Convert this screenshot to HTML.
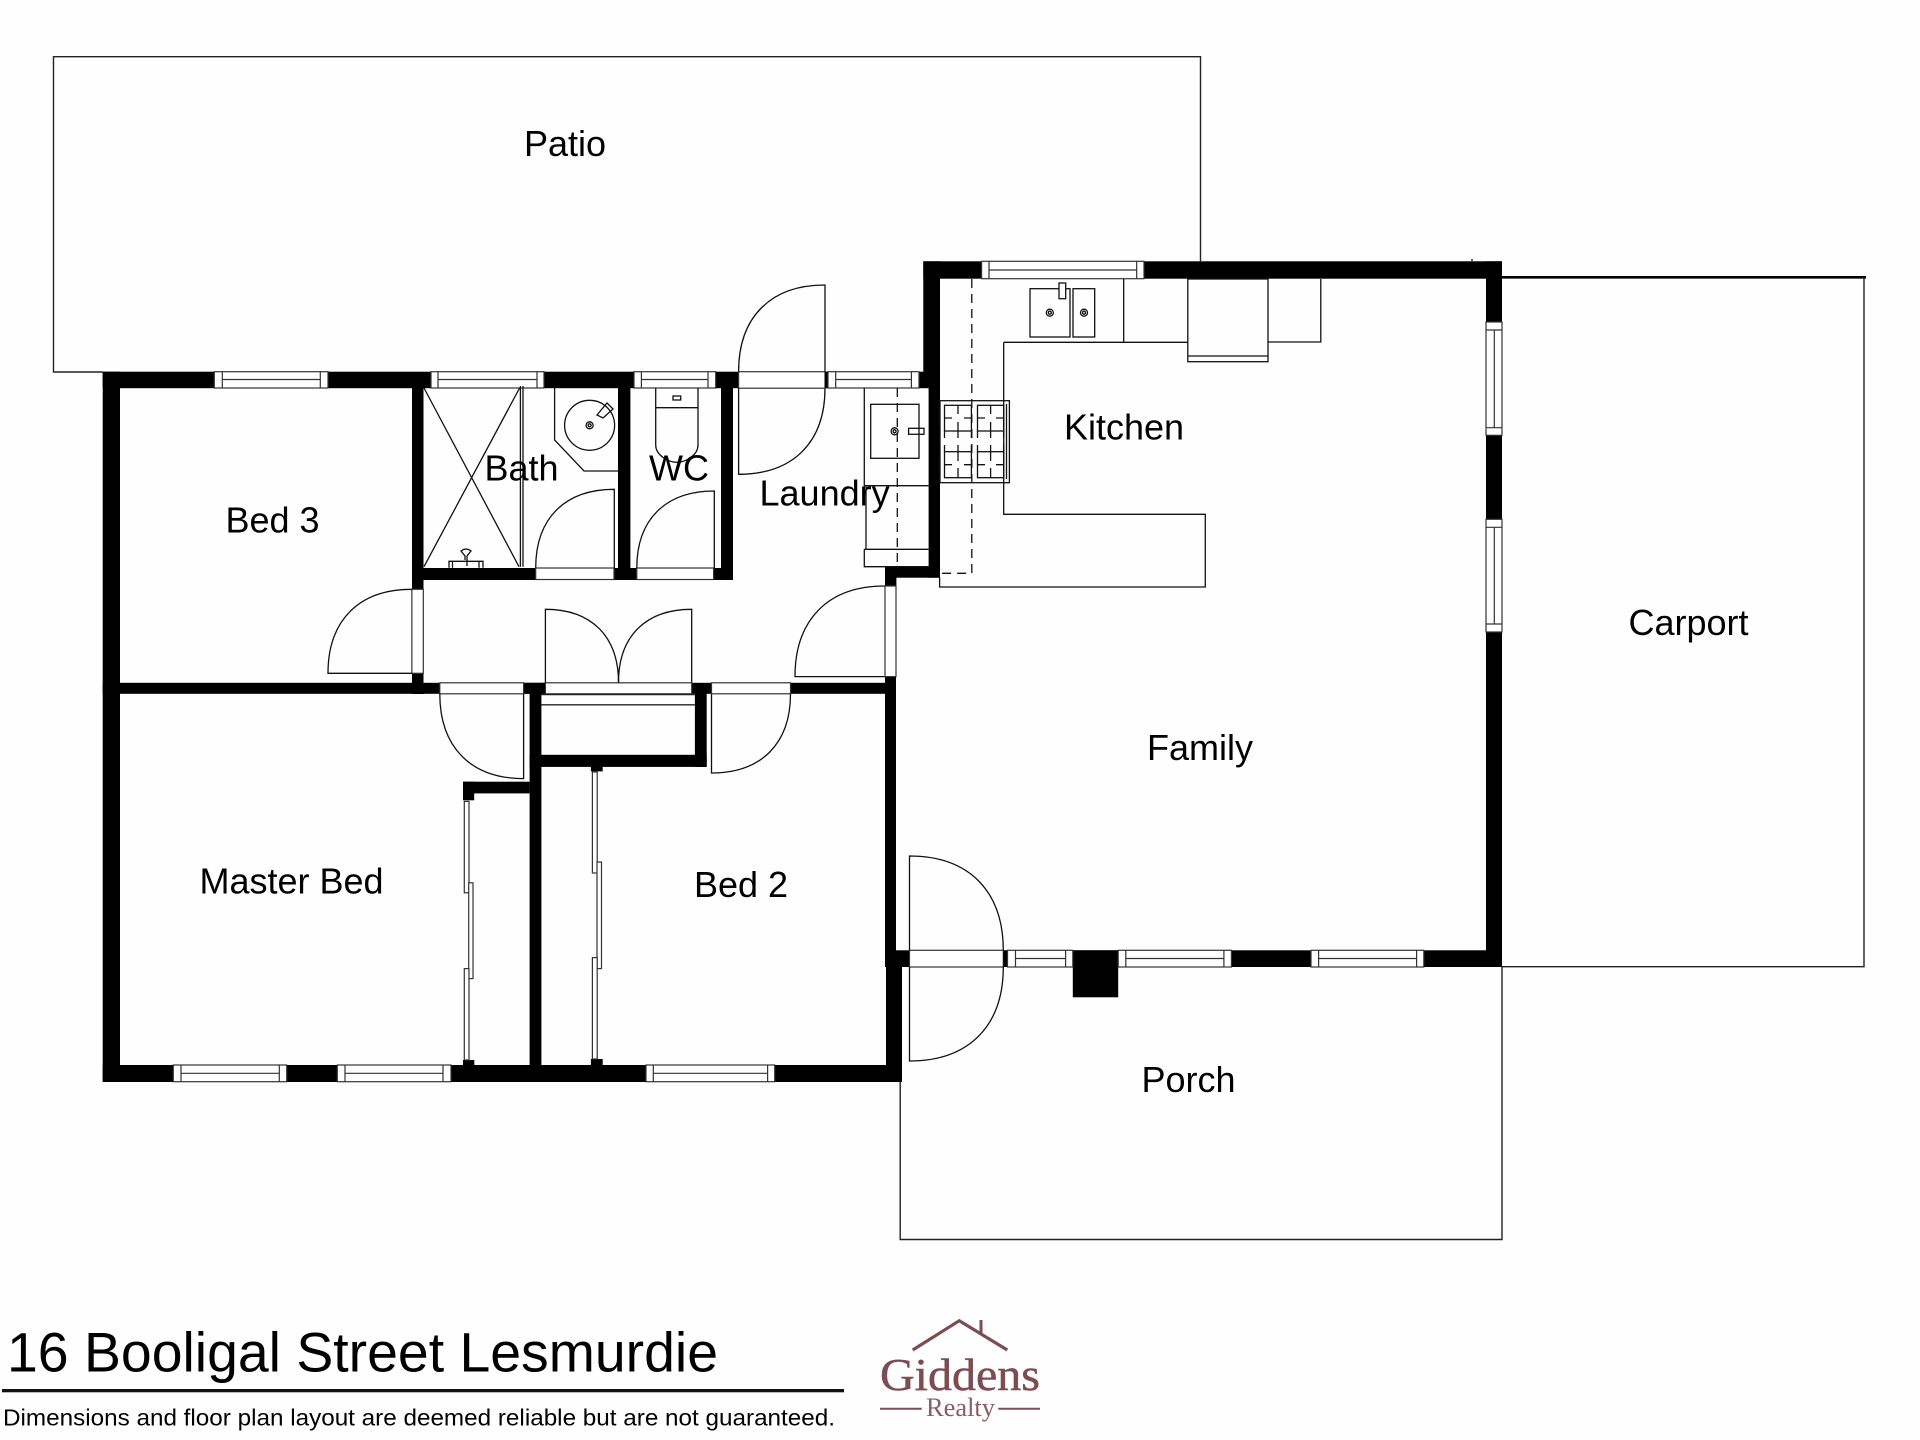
<!DOCTYPE html>
<html lang="en">
<head>
<meta charset="utf-8">
<title>16 Booligal Street Lesmurdie</title>
<style>
html,body{margin:0;padding:0;background:#fefefe}
svg{display:block}
text{font-family:"Liberation Sans",sans-serif;fill:#000}
.l{fill:none;stroke:#222;stroke-width:1.4}
.t{fill:none;stroke:#111;stroke-width:1.3}
.w{fill:#fff;stroke:#333;stroke-width:1.2}
.o{fill:#fff}
.b{fill:#000}
.r{font-size:36px}
</style>
</head>
<body>
<svg width="1920" height="1440" viewBox="0 0 1920 1440" xmlns="http://www.w3.org/2000/svg">
<rect width="1920" height="1440" fill="#fefefe"/>

<!-- outlines of patio, carport, porch -->
<path class="l" d="M102.7,372H53.5V56.7H1200.5V261.3"/>
<path d="M1502,277.3H1866" fill="none" stroke="#000" stroke-width="2.6"/>
<path class="l" d="M1864,277V966.7H1502"/>
<path class="l" d="M900.2,1082V1239.5H1502V967"/>
<path class="t" d="M1472,261V259"/>

<!-- walls -->
<g class="b">
<rect x="102.7" y="371.7" width="837.3" height="16.5"/>
<rect x="102.7" y="371.7" width="17.3" height="710.3"/>
<rect x="102.7" y="1065" width="799.3" height="17"/>
<rect x="923.3" y="261.3" width="16.7" height="120"/>
<rect x="928.6" y="380" width="11.4" height="197.7"/>
<rect x="923.3" y="261.3" width="578.7" height="17.4"/>
<rect x="1486" y="261.3" width="16" height="705.7"/>
<rect x="885" y="950.3" width="617" height="16.7"/>
<rect x="412" y="372" width="11.5" height="322"/>
<rect x="412" y="568" width="321" height="12"/>
<rect x="618" y="388" width="12.4" height="192"/>
<rect x="721" y="388" width="12" height="192"/>
<rect x="885" y="566.7" width="55" height="11"/>
<rect x="885" y="566.7" width="11.4" height="20"/>
<rect x="102.7" y="682.8" width="793.3" height="11"/>
<rect x="885" y="676.6" width="11" height="280"/>
<rect x="886" y="960" width="16" height="122"/>
<rect x="529.6" y="690" width="11.8" height="392"/>
<rect x="523.6" y="682.8" width="21.8" height="11"/>
<rect x="694.9" y="690" width="11.8" height="77"/>
<rect x="529.6" y="754.8" width="177.1" height="12.1"/>
<rect x="463" y="781.7" width="66.6" height="11.7"/>
<rect x="463" y="781.7" width="11.2" height="18.6"/>
<rect x="463" y="1060" width="11.3" height="6"/>
<rect x="590.9" y="766" width="11.8" height="5.4"/>
<rect x="590.9" y="1059" width="11.8" height="7"/>
<rect x="1072.8" y="950.3" width="45.4" height="47"/>
</g>

<!-- door openings -->
<g class="w">
<rect x="738.6" y="371.7" width="86.4" height="16.5"/>
<rect x="535.7" y="568" width="78.3" height="11.5"/>
<rect x="636.8" y="568" width="76.8" height="11.5"/>
<rect x="411.9" y="589.3" width="11.4" height="84"/>
<rect x="439.8" y="682.8" width="83.8" height="11"/>
<rect x="545.4" y="682.8" width="146.3" height="11"/>
<rect x="711.5" y="682.8" width="79" height="11"/>
<rect x="885" y="586" width="11" height="90.6"/>
<rect x="909.5" y="950.3" width="93.8" height="16.7"/>
</g>

<!-- door swings -->
<g class="t">
<path d="M411.7,589.3C359,589.3 328,620.4 328,673.3H411.7"/>
<path d="M738.6,371.7C738.6,317.1 770.6,285 825,285V372"/>
<path d="M825,388C825,442.4 793,474.3 738.6,474.3V388"/>
<path d="M535.7,568C535.7,518.4 564.8,489.3 614.3,489.3V568"/>
<path d="M636.8,568C636.8,519.5 665.5,491 714.3,491V568"/>
<path d="M545.4,682.8V609.3C591.4,609.3 618.5,636.4 618.5,682.4"/>
<path d="M691.7,682.8V609.3C645.6,609.3 618.5,636.4 618.5,682.4"/>
<path d="M439.8,693.8C439.8,747.2 470.8,778.6 523.6,778.6V694"/>
<path d="M790.5,693.8C790.5,743.7 761.3,773 711.5,773V694"/>
<path d="M884.6,586C828.2,586 795,619.6 795,676.6H884.6"/>
<path d="M909.5,950.3V856C968.6,856 1003.3,890.9 1003.3,950.3"/>
<path d="M1003.3,967C1003.3,1026.2 968.6,1061 909.5,1061V967"/>
</g>
<rect x="1003.3" y="950.3" width="4.2" height="16.7" class="b"/>
<rect x="825" y="371.7" width="3" height="16.5" class="b"/>

<!-- horizontal windows -->
<g class="w">
<rect x="214.3" y="371.7" width="113.7" height="16.3"/><path d="M222.3,371.7V388M320.3,371.7V388M222.3,379.5H320.3"/>
<rect x="431" y="371.7" width="113" height="16.3"/><path d="M438,371.7V388M537,371.7V388M438,379.5H537"/>
<rect x="634" y="371.7" width="81.7" height="16.3"/><path d="M641.4,371.7V388M708,371.7V388M641.4,379.5H708"/>
<rect x="828" y="371.7" width="91" height="16.3"/><path d="M835.7,371.7V388M911.4,371.7V388M835.7,379.5H911.4"/>
<rect x="981.6" y="261.3" width="162.4" height="17.4"/><path d="M989,261.3V278.7M1136.7,261.3V278.7M989,270H1136.7"/>
<rect x="1007.5" y="950.3" width="65.3" height="16.7"/><path d="M1015.5,950.3V967M1065.6,950.3V967M1015.5,958.5H1065.6"/>
<rect x="1118.2" y="950.3" width="113.2" height="16.7"/><path d="M1125.8,950.3V967M1223.9,950.3V967M1125.8,958.5H1223.9"/>
<rect x="1311" y="950.3" width="112.8" height="16.7"/><path d="M1318.6,950.3V967M1416.6,950.3V967M1318.6,958.5H1416.6"/>
<rect x="173.3" y="1065" width="113.4" height="16.7"/><path d="M181,1065V1081.7M279.3,1065V1081.7M181,1073.3H279.3"/>
<rect x="337.3" y="1065" width="113.7" height="16.7"/><path d="M345,1065V1081.7M443,1065V1081.7M345,1073.3H443"/>
<rect x="646" y="1065" width="128.7" height="16.7"/><path d="M653.3,1065V1081.7M767.6,1065V1081.7M653.3,1073.3H767.6"/>
<!-- vertical windows -->
<rect x="1486" y="322" width="16" height="113.3"/><path d="M1486,330H1502M1486,427.7H1502M1494.3,330V427.7"/>
<rect x="1486" y="519.3" width="16" height="112.7"/><path d="M1486,527.3H1502M1486,624H1502M1494.3,527.3V624"/>
<!-- sliding doors -->
<rect x="464.3" y="801.4" width="4.7" height="91.4"/>
<rect x="468.7" y="882.8" width="4.3" height="95.8"/>
<rect x="464.3" y="968.6" width="4.7" height="91.4"/>
<rect x="592.4" y="772" width="4.8" height="101"/>
<rect x="597" y="862" width="4.5" height="106.6"/>
<rect x="592.4" y="957.6" width="4.8" height="101.4"/>
</g>

<!-- cupboard shelf lines -->
<path class="l" d="M541.4,694.5H694.9M541.4,704.8H694.9"/>

<!-- shower -->
<g class="t">
<path d="M424,388L519,566.7M519.6,388L424,566.7"/>
<path d="M520.4,386V566.7M523,386V566.7"/>
<path d="M449,567.7V561.3H483V567.7M452.5,561.3V567.7M479,561.3V567.7"/>
<path d="M465,560V556L461,551Q466,547 471,551L467,556V566"/>
</g>

<!-- vanity -->
<g class="t">
<path d="M554.6,388V440L584,471H618"/>
<circle cx="589.6" cy="425.3" r="25"/>
<circle cx="589.6" cy="425.3" r="3.5"/>
<circle cx="589.6" cy="425.3" r="1.5"/>
<path d="M597,415L607,403L613,409L603,418Z"/>
</g>

<!-- toilet -->
<g class="t">
<path d="M655.7,388V407.7H698V388M655.7,407.7V445C655.7,455 668,462.3 677,462.3C686,462.3 698,455 698,445V407.7"/>
<rect x="673" y="396" width="7.7" height="4"/>
</g>

<!-- laundry bench -->
<g class="t">
<path d="M864.3,388V485.7H928.6"/>
<path d="M866,485.7V549.3M864.3,549.3H928.6M864.3,549.3V566.7H928.6"/>
<rect x="870.7" y="404.3" width="48.3" height="54"/>
<circle cx="894.6" cy="431.3" r="3.5"/>
<circle cx="894.6" cy="431.3" r="1.5"/>
<rect x="908.6" y="428.3" width="15.4" height="6"/>
<path d="M897.3,388V566" stroke-dasharray="9 6"/>
</g>

<!-- kitchen -->
<g class="t">
<path d="M1003.7,342.3V514.3H1205.3V587H939.6V577"/>
<path d="M1003.7,342.3H1187.8M1123.7,279V342"/>
<path d="M1268,342H1320.8V279"/>
<rect x="1187.8" y="279" width="80.2" height="82.7"/>
<path d="M1187.8,356H1268"/>
<rect x="1030" y="288.7" width="40" height="48.3"/>
<rect x="1073" y="288.7" width="21.7" height="48.3"/>
<circle cx="1049.8" cy="312.7" r="3.5"/>
<circle cx="1049.8" cy="312.7" r="1.5"/>
<circle cx="1084" cy="312.7" r="3.5"/>
<circle cx="1084" cy="312.7" r="1.5"/>
<rect x="1059" y="283" width="6.7" height="15.7" fill="#fff"/>
<path d="M971.8,279V573.3H940" stroke-dasharray="9 6"/>
<rect x="940" y="400.7" width="69.4" height="82"/>
<path d="M1006.5,404V479"/>
<rect x="944.5" y="405.3" width="26.9" height="25.7"/>
<rect x="977.5" y="405.3" width="26.2" height="25.7"/>
<rect x="944.5" y="451.7" width="26.9" height="26"/>
<rect x="977.5" y="451.7" width="26.2" height="26"/>
<path d="M958,405V414M958,422V431M944.5,418H952M964,418H971.4M990.6,405V414M990.6,422V431M977.5,418H985M996,418H1003.7M958,451.7V461M958,468V477.7M944.5,464.7H952M964,464.7H971.4M990.6,451.7V461M990.6,468V477.7M977.5,464.7H985M996,464.7H1003.7"/>
<path d="M958,431V438M958,445V451.7M990.6,431V438M990.6,445V451.7M944.5,431V438M944.5,445V451.7M971.4,431V438M971.4,445V451.7M977.5,431V438M977.5,445V451.7M1003.7,431V438M1003.7,445V451.7"/>
</g>

<!-- room labels -->
<text class="r" x="524" y="156">Patio</text>
<text class="r" x="225.5" y="532.7">Bed 3</text>
<text class="r" x="484.5" y="480.7">Bath</text>
<text class="r" x="649" y="480.7">WC</text>
<text class="r" x="759.5" y="505.7">Laundry</text>
<text class="r" x="1064" y="439.3">Kitchen</text>
<text class="r" x="1147" y="760">Family</text>
<text class="r" x="1628.5" y="635">Carport</text>
<text class="r" x="199.5" y="893.4">Master Bed</text>
<text class="r" x="694" y="897">Bed 2</text>
<text class="r" x="1141.5" y="1092">Porch</text>

<!-- footer -->
<text x="7" y="1371.5" font-size="56" textLength="711" lengthAdjust="spacingAndGlyphs">16 Booligal Street Lesmurdie</text>
<rect x="2" y="1389" width="842" height="3.3" fill="#111"/>
<text x="3" y="1425.5" font-size="23.5" textLength="832" lengthAdjust="spacingAndGlyphs">Dimensions and floor plan layout are deemed reliable but are not guaranteed.</text>

<!-- logo -->
<g fill="none" stroke="#7d4c50">
<path d="M912.7,1350L959.3,1320.7L1007.3,1350" stroke-width="3.2"/>
<path d="M981,1320V1334" stroke-width="3"/>
<path d="M880,1408.7H921.7M998.3,1408.7H1040" stroke-width="2"/>
</g>
<text x="880" y="1390" font-size="46" textLength="160" lengthAdjust="spacingAndGlyphs" style="font-family:'Liberation Serif',serif;fill:#7d4c50;stroke:#7d4c50;stroke-width:.5">Giddens</text>
<text x="926" y="1416" font-size="26" textLength="69" lengthAdjust="spacingAndGlyphs" style="font-family:'Liberation Serif',serif;fill:#8a5d60">Realty</text>
</svg>
</body>
</html>
